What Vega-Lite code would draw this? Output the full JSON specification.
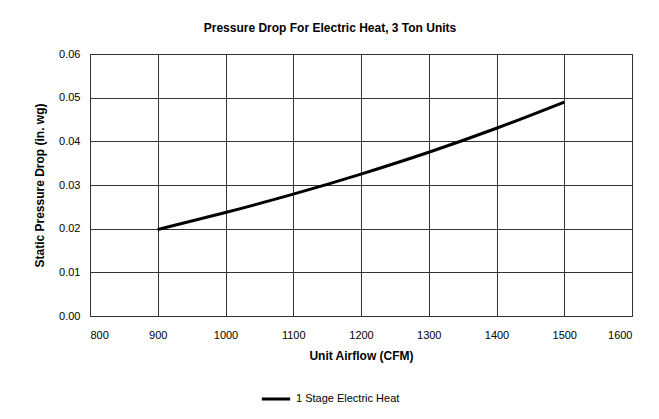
{
  "$schema": "https://vega.github.io/schema/vega-lite/v6.json",
  "width": 542,
  "height": 262,
  "autosize": "none",
  "padding": {"left": 90, "top": 54, "right": 27, "bottom": 103},
  "background": "white",
  "title": {
    "text": "Pressure Drop For Electric Heat, 3 Ton Units",
    "anchor": "middle",
    "frame": "group",
    "dx": -31,
    "offset": 13,
    "font": "Liberation Sans",
    "fontSize": 12,
    "fontWeight": "bold",
    "color": "black"
  },
  "config": {
    "view": {"stroke": "#333333", "strokeWidth": 1},
    "axis": {
      "labelFont": "Liberation Sans",
      "labelFontSize": 11,
      "labelColor": "black",
      "titleFont": "Liberation Sans",
      "titleFontSize": 12,
      "titleFontWeight": "bold",
      "titleColor": "black",
      "gridColor": "#333333",
      "gridOpacity": 1,
      "gridWidth": 1,
      "domainColor": "#333333",
      "ticks": false
    },
    "legend": {
      "labelFont": "Liberation Sans",
      "labelFontSize": 11,
      "labelColor": "black"
    }
  },
  "data": {
    "values": [
      {"cfm": 900, "dp": 0.0198, "series": "1 Stage Electric Heat"},
      {"cfm": 1000, "dp": 0.0237, "series": "1 Stage Electric Heat"},
      {"cfm": 1100, "dp": 0.0279, "series": "1 Stage Electric Heat"},
      {"cfm": 1200, "dp": 0.0325, "series": "1 Stage Electric Heat"},
      {"cfm": 1300, "dp": 0.0375, "series": "1 Stage Electric Heat"},
      {"cfm": 1400, "dp": 0.0430, "series": "1 Stage Electric Heat"},
      {"cfm": 1500, "dp": 0.0490, "series": "1 Stage Electric Heat"}
    ]
  },
  "mark": {"type": "line", "strokeWidth": 3, "interpolate": "monotone"},
  "encoding": {
    "x": {
      "field": "cfm",
      "type": "quantitative",
      "scale": {"domain": [800, 1600], "nice": false},
      "axis": {
        "title": "Unit Airflow (CFM)",
        "values": [800, 900, 1000, 1100, 1200, 1300, 1400, 1500, 1600],
        "format": "d",
        "labelPadding": 13,
        "titlePadding": 10,
        "grid": true
      }
    },
    "y": {
      "field": "dp",
      "type": "quantitative",
      "scale": {"domain": [0, 0.06], "nice": false},
      "axis": {
        "title": "Static Pressure Drop (in. wg)",
        "values": [0, 0.01, 0.02, 0.03, 0.04, 0.05, 0.06],
        "format": ".2f",
        "labelPadding": 10,
        "titlePadding": 12,
        "grid": true
      }
    },
    "color": {
      "field": "series",
      "type": "nominal",
      "scale": {"range": ["black"]},
      "legend": {
        "title": null,
        "orient": "none",
        "legendX": 170,
        "legendY": 329,
        "symbolType": "stroke",
        "symbolStrokeWidth": 3,
        "symbolSize": 800,
        "labelOffset": 4
      }
    }
  }
}
